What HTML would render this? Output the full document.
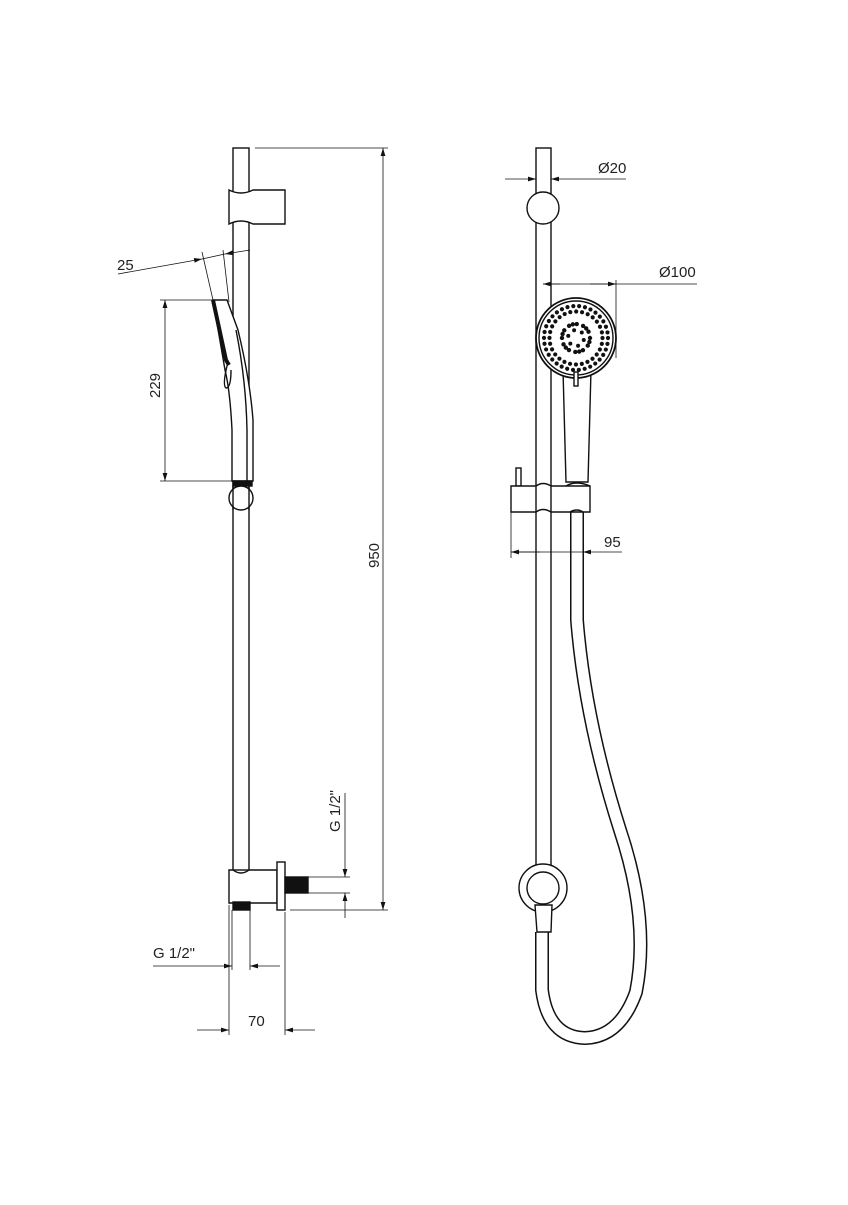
<!DOCTYPE html>
<html><head><meta charset="utf-8"><style>
html,body{margin:0;padding:0;background:#fff}
svg text{font-family:"Liberation Sans",sans-serif;font-size:15px;fill:#222}
</style></head><body>
<svg width="848" height="1200" viewBox="0 0 848 1200" xmlns="http://www.w3.org/2000/svg">
<defs>
<marker id="a" viewBox="0 0 10 6" refX="10" refY="3" markerWidth="10" markerHeight="6" orient="auto-start-reverse"><path d="M0,0L10,3L0,6z" fill="#111"/></marker>
</defs>
<g fill="none" stroke="#111" stroke-width="1.4">
<rect x="233" y="148" width="16" height="722" fill="#fff"/>
<path d="M229,190 Q241,196 253,190 L285,190 L285,224 L253,224 Q241,218 229,224 Z" fill="#fff"/>
<path d="M213,300 L227,300 L238,330 Q250,380 253,420 L253,481 L232,481 L232,430 Q230,390 225,370 Z" fill="#fff"/>
<path d="M213,300 L226,360 L229,365" stroke-width="4"/>
<path d="M228,362 Q222,385 226,388 Q231,388 231,370"/>
<path d="M236,330 Q246,380 247,430 L247,481"/>
<rect x="233" y="481" width="19" height="5" fill="#111"/>
<circle cx="241" cy="498" r="12" fill="#fff"/>
<line x1="233" y1="486" x2="233" y2="510"/><line x1="249" y1="486" x2="249" y2="510"/>
<path d="M229,870 L233,870 Q241,876 249,870 L277,870 L277,903 L229,903 Z" fill="#fff"/>
<rect x="277" y="862" width="8" height="48" fill="#fff"/>
<rect x="285" y="877" width="23" height="16" fill="#111"/>
<rect x="233" y="902" width="17" height="8" fill="#111"/>
</g>
<g stroke="#111" stroke-width="0.8" fill="none">
<line x1="255" y1="148" x2="388" y2="148"/>
<line x1="290" y1="910" x2="388" y2="910"/>
<line x1="383" y1="148" x2="383" y2="910" marker-start="url(#a)" marker-end="url(#a)"/>
<line x1="160" y1="300" x2="222" y2="300"/>
<line x1="160" y1="481" x2="232" y2="481"/>
<line x1="165" y1="300" x2="165" y2="481" marker-start="url(#a)" marker-end="url(#a)"/>
<line x1="118" y1="274" x2="202" y2="259" marker-end="url(#a)"/>
<line x1="250" y1="250" x2="225" y2="254" marker-end="url(#a)"/>
<line x1="202" y1="259" x2="225" y2="254"/>
<line x1="202" y1="252" x2="213" y2="300"/>
<line x1="223" y1="250" x2="229" y2="302"/>
<line x1="308" y1="877" x2="350" y2="877"/>
<line x1="308" y1="893" x2="350" y2="893"/>
<line x1="345" y1="793" x2="345" y2="877" marker-end="url(#a)"/>
<line x1="345" y1="918" x2="345" y2="893" marker-end="url(#a)"/>
<line x1="232" y1="910" x2="232" y2="970"/>
<line x1="250" y1="910" x2="250" y2="970"/>
<line x1="153" y1="966" x2="232" y2="966" marker-end="url(#a)"/>
<line x1="280" y1="966" x2="250" y2="966" marker-end="url(#a)"/>
<line x1="229" y1="905" x2="229" y2="1035"/>
<line x1="285" y1="912" x2="285" y2="1035"/>
<line x1="197" y1="1030" x2="229" y2="1030" marker-end="url(#a)"/>
<line x1="315" y1="1030" x2="285" y2="1030" marker-end="url(#a)"/>
</g>
<text x="117" y="270">25</text>
<text transform="translate(160,398) rotate(-90)">229</text>
<text transform="translate(379,568) rotate(-90)">950</text>
<text transform="translate(340,832) rotate(-90)">G 1/2"</text>
<text x="153" y="958">G 1/2"</text>
<text x="248" y="1026">70</text>

<g fill="none" stroke="#111" stroke-width="1.4">
<path d="M577,512 L577,620 Q585,720 620,830 Q650,920 636,992 Q620,1037 585,1038 Q548,1037 542,990 L542,932" stroke-width="14"/>
<path d="M577,512 L577,620 Q585,720 620,830 Q650,920 636,992 Q620,1037 585,1038 Q548,1037 542,990 L542,932" stroke="#fff" stroke-width="11"/>
<rect x="536" y="148" width="15" height="722" fill="#fff"/>
<circle cx="543" cy="208" r="16" fill="#fff"/>
<circle cx="543" cy="888" r="24" fill="#fff"/>
<circle cx="543" cy="888" r="16" fill="#fff"/>
<path d="M535,905 L552,905 L551,932 L537,932 Z" fill="#fff"/>
<path d="M563,370 L591,370 L588,482 L566,482 Z" fill="#fff"/>
<circle cx="576" cy="338" r="40" fill="#fff" stroke-width="1.8"/>
<circle cx="576" cy="338" r="37"/>
<rect x="574" y="372" width="4" height="14" fill="#fff"/>
<rect x="516" y="468" width="5" height="18" fill="#fff"/>
<path d="M511,486 L536,486 Q543,481 551,486 L590,486 L590,512 L551,512 Q543,507 536,512 L511,512 Z" fill="#fff"/>
<line x1="536" y1="486" x2="536" y2="512"/><line x1="551" y1="486" x2="551" y2="512"/>
<path d="M566,486 Q576,480 590,486"/>
<path d="M570,512 Q577,508 583,512"/>
</g>
<g fill="none" stroke="#111" stroke-linecap="round">
<circle cx="576" cy="338" r="32" stroke-width="4.2" stroke-dasharray="0 5.913"/>
<circle cx="576" cy="338" r="26.5" stroke-width="4.2" stroke-dasharray="0 5.946"/>
<circle cx="576" cy="338" r="14" stroke-width="4.4" stroke-dasharray="0 4 0 4 0 6.66"/>
<circle cx="576" cy="338" r="8" stroke-width="4" stroke-dasharray="0 8.378" stroke-dashoffset="-2"/>
</g>
<g stroke="#111" stroke-width="0.8" fill="none">
<line x1="505" y1="179" x2="536" y2="179" marker-end="url(#a)"/>
<line x1="626" y1="179" x2="551" y2="179" marker-end="url(#a)"/>
<line x1="543" y1="284" x2="697" y2="284"/>
<line x1="560" y1="284" x2="543" y2="284" marker-end="url(#a)"/>
<line x1="590" y1="284" x2="616" y2="284" marker-end="url(#a)"/>
<line x1="616" y1="280" x2="616" y2="358"/>
<line x1="511" y1="512" x2="511" y2="558"/>
<line x1="583" y1="512" x2="583" y2="558"/>
<line x1="540" y1="552" x2="511" y2="552" marker-end="url(#a)"/>
<line x1="622" y1="552" x2="583" y2="552" marker-end="url(#a)"/>
<line x1="511" y1="552" x2="583" y2="552"/>
</g>
<text x="598" y="173">Ø20</text>
<text x="659" y="277">Ø100</text>
<text x="604" y="547">95</text>
</svg>
</body></html>
